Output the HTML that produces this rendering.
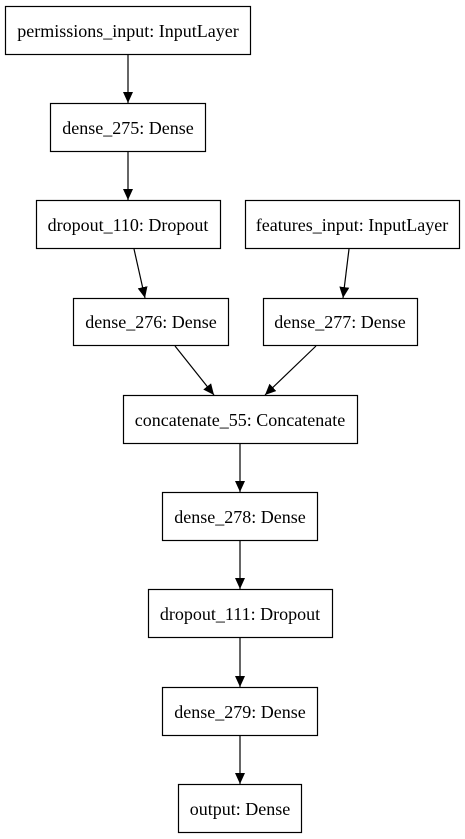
<!DOCTYPE html>
<html><head><meta charset="utf-8"><style>body{margin:0;background:#fff}svg{display:block}text{font-family:"Liberation Serif","DejaVu Serif",serif;font-size:18px}</style></head><body>
<svg width="465" height="839" viewBox="0 0 465 839" xmlns="http://www.w3.org/2000/svg">
<defs><marker id="a" markerWidth="12" markerHeight="12" refX="11" refY="5" orient="auto" markerUnits="userSpaceOnUse"><path d="M0,0 L11,5 L0,10 z" fill="#000"/></marker></defs>
<g fill="none" stroke="#000" stroke-width="1.2">
<rect x="5.5" y="6.5" width="245" height="48"/>
<rect x="50.5" y="103.5" width="155" height="48"/>
<rect x="36.5" y="200.5" width="184" height="48"/>
<rect x="245.5" y="200.5" width="214" height="48"/>
<rect x="73.5" y="298.5" width="155" height="47"/>
<rect x="263.5" y="298.5" width="154" height="47"/>
<rect x="123.5" y="395.5" width="234" height="48"/>
<rect x="162.5" y="492.5" width="155" height="48"/>
<rect x="148.5" y="589.5" width="184" height="48"/>
<rect x="162.5" y="687.5" width="155" height="48"/>
<rect x="178.5" y="784.5" width="123" height="48"/>
<line x1="128" y1="55" x2="128" y2="103" marker-end="url(#a)"/>
<line x1="128" y1="152" x2="128" y2="200" marker-end="url(#a)"/>
<line x1="134" y1="249" x2="145" y2="298" marker-end="url(#a)"/>
<line x1="349" y1="249" x2="343" y2="298" marker-end="url(#a)"/>
<line x1="175" y1="346" x2="214" y2="395" marker-end="url(#a)"/>
<line x1="316" y1="346" x2="265" y2="395" marker-end="url(#a)"/>
<line x1="240" y1="444" x2="240" y2="492" marker-end="url(#a)"/>
<line x1="240" y1="541" x2="240" y2="589" marker-end="url(#a)"/>
<line x1="240" y1="638" x2="240" y2="687" marker-end="url(#a)"/>
<line x1="240" y1="736" x2="240" y2="784" marker-end="url(#a)"/>
</g>
<g text-anchor="middle" fill="#000">
<text x="128" y="37">permissions_input: InputLayer</text>
<text x="128" y="134">dense_275: Dense</text>
<text x="128" y="231">dropout_110: Dropout</text>
<text x="352" y="231">features_input: InputLayer</text>
<text x="151" y="328">dense_276: Dense</text>
<text x="340" y="328">dense_277: Dense</text>
<text x="240" y="426">concatenate_55: Concatenate</text>
<text x="240" y="523">dense_278: Dense</text>
<text x="240" y="620">dropout_111: Dropout</text>
<text x="240" y="718">dense_279: Dense</text>
<text x="240" y="815">output: Dense</text>
</g>
</svg>
</body></html>
